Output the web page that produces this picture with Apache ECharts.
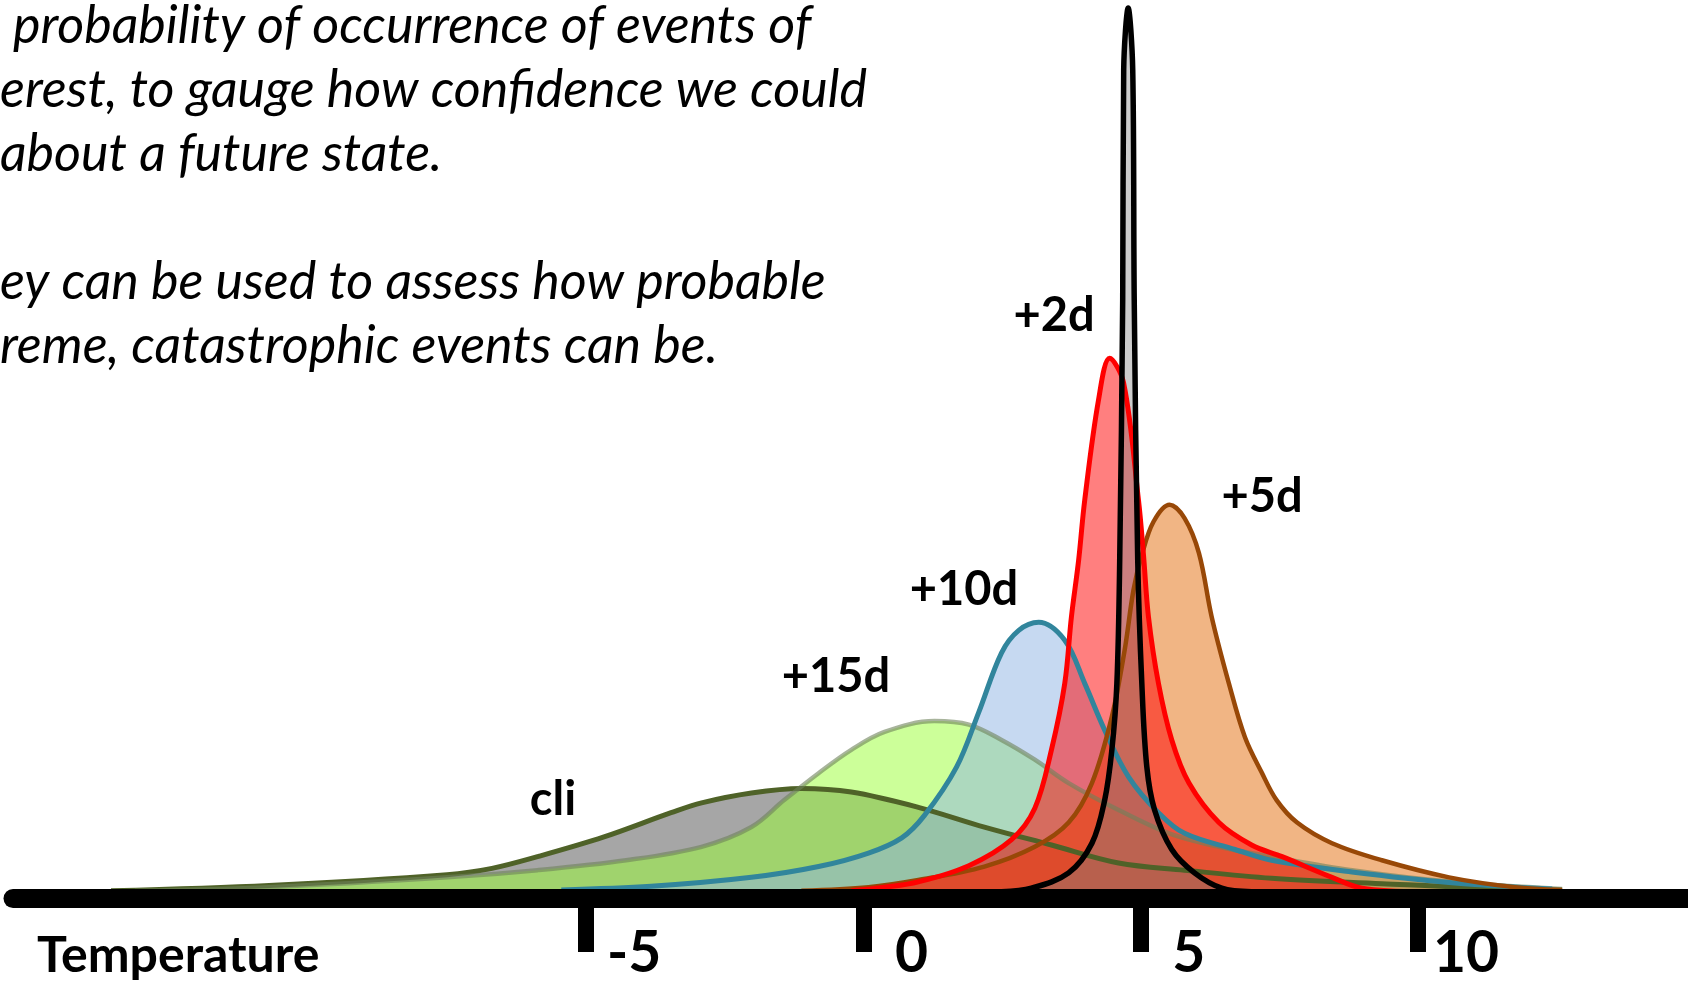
<!DOCTYPE html>
<html>
<head>
<meta charset="utf-8">
<title>Forecast spread</title>
<script src="https://cdn.jsdelivr.net/npm/echarts@6.0.0/dist/echarts.min.js"></script>
<style>
  html, body { margin: 0; padding: 0; background: #fff; }
  #chart { width: 1688px; height: 984px; }
</style>
</head>
<body>
<div id="chart"></div>
<script>
// temperature (x) and relative density (y, 0-100)
const cliX = [-13.57, -10.72, -7.51, -6.70, -5.88, -4.68, -3.47, -2.92, -2.02, -1.12, -0.22, 0.99, 2.18, 3.39, 4.60, 5.79, 7.36, 9.35, 11.16, 12.6]
const cliY = [0.8, 1.4, 2.6, 3.3, 4.6, 6.8, 9.5, 10.6, 11.7, 12.2, 11.8, 10.1, 7.9, 5.9, 3.9, 3.1, 2.2, 1.6, 1.1, 0.9]

const d15X = [-13.14, -10.72, -7.51, -5.88, -4.28, -2.92, -2.02, -1.43, -0.81, -0.22, 0.38, 1.28, 1.90, 2.49, 3.09, 3.70, 4.60, 5.51, 6.41, 7.36, 8.81, 10.61, 12.6]
const d15Y = [0.8, 1.2, 2.3, 3.1, 4.2, 5.7, 7.9, 10.9, 13.9, 16.5, 18.5, 19.7, 19.3, 17.6, 15.4, 12.8, 9.8, 7.2, 5.7, 4.6, 3.1, 1.8, 1.0]

const d10X = [-5.45, -3.83, -2.02, -0.81, 0.09, 0.69, 1.10, 1.68, 2.08, 2.49, 2.80, 3.16, 3.63, 3.99, 4.35, 4.78, 5.32, 5.79, 6.70, 7.36, 8.81, 10.61, 12.42]
const d10Y = [0.9, 1.3, 2.3, 3.5, 5.0, 6.7, 9.2, 14.6, 20.7, 27.3, 29.8, 30.7, 28.7, 23.9, 18.7, 13.5, 9.5, 7.2, 5.4, 4.2, 2.9, 1.7, 1.0]

const d5X = [-1.12, 0.09, 0.99, 2.18, 3.09, 3.70, 4.12, 4.48, 4.71, 4.87, 5.02, 5.23, 5.52, 5.79, 6.05, 6.28, 6.59, 6.88, 7.18, 7.45, 7.82, 8.45, 9.35, 10.56, 11.75, 12.6]
const d5Y = [0.8, 1.2, 2.0, 3.5, 5.7, 8.4, 12.8, 20.2, 27.6, 34.3, 38.2, 41.9, 43.8, 42.3, 38.4, 31.3, 23.9, 17.9, 14.0, 10.9, 8.4, 6.1, 4.2, 2.3, 1.2, 0.9]

const d2X = [-0.22, 0.38, 0.99, 1.90, 2.67, 3.09, 3.39, 3.63, 3.75, 3.88, 3.99, 4.24, 4.44, 4.69, 4.96, 5.05, 5.14, 5.32, 5.56, 5.87, 6.41, 7.00, 7.55, 8.45, 8.99, 10.07]
const d2Y = [0.8, 1.2, 1.8, 3.6, 6.5, 10.0, 16.5, 23.9, 31.3, 37.6, 44.3, 55.5, 60.1, 57.4, 44.3, 38.2, 31.3, 23.9, 17.6, 12.8, 8.4, 5.9, 4.6, 2.3, 1.1, 0.7]

const d0X = [2.49, 3.03, 3.70, 4.12, 4.35, 4.48, 4.57, 4.621, 4.675, 4.693, 4.774, 4.856, 4.883, 4.946, 5.02, 5.11, 5.25, 5.56, 5.97, 6.46, 7.00]
const d0Y = [0.7, 1.1, 2.8, 6.1, 10.9, 16.5, 23.9, 37.6, 66.6, 92.2, 99.1, 92.2, 66.6, 37.6, 23.9, 14.6, 9.8, 5.4, 2.8, 1.1, 0.7]

const tickValues = [-5, 0, 5, 10]
const curveLabels = ['cli', '+15d', '+10d', '+5d', '+2d']
const textLines = [
  'probability of occurrence of events of',
  'erest, to gauge how confidence we could',
  'about a future state.',
  '',
  'ey can be used to assess how probable',
  'reme, catastrophic events can be.'
]

const chart = echarts.init(document.getElementById('chart'))

const curve = (name, xs, ys, lineColor, fill, width) => ({
  name,
  type: 'line',
  data: xs.map((x, i) => [x, ys[i]]),
  smooth: 0.35,
  symbol: 'none',
  silent: true,
  lineStyle: { color: lineColor, width: width, join: 'round' },
  areaStyle: { color: fill, opacity: 1 }
})

// label anchors (px), one per entry of curveLabels
const labelPos = [[553, 800], [836, 677], [964, 590], [1262, 497], [1054, 316]]

const graphics = []
textLines.forEach((t, i) => {
  if (!t) return
  graphics.push({
    type: 'text',
    x: i === 0 ? 13 : 0,
    y: 26 + i * 64,
    z: 100,
    style: {
      text: t,
      fill: '#000',
      font: 'italic 52px Lato, "Open Sans", sans-serif',
      verticalAlign: 'middle'
    }
  })
})
curveLabels.forEach((t, i) => {
  graphics.push({
    type: 'text',
    x: labelPos[i][0],
    y: labelPos[i][1],
    z: 100,
    style: {
      text: t,
      fill: '#000',
      font: 'bold 47px Lato, sans-serif',
      align: 'center',
      verticalAlign: 'middle'
    }
  })
})
graphics.push({
  type: 'text',
  x: 37,
  y: 956,
  z: 100,
  style: {
    text: 'Temperature',
    fill: '#000',
    font: 'bold 50px Lato, sans-serif',
    verticalAlign: 'middle'
  }
})

chart.setOption({
  animation: false,
  backgroundColor: '#fff',
  grid: { left: 13, right: 0, top: 0, bottom: 86 },
  xAxis: {
    type: 'value',
    min: -15.338,
    max: 14.87,
    z: 10,
    axisLine: { show: true, lineStyle: { color: '#000', width: 19 } },
    axisTick: {
      show: true,
      customValues: tickValues,
      length: 54,
      lineStyle: { color: '#000', width: 16 }
    },
    axisLabel: {
      show: true,
      customValues: tickValues,
      color: '#000',
      fontFamily: 'Lato',
      fontWeight: 'bold',
      fontSize: 57,
      margin: 56,
      verticalAlign: 'middle',
      align: 'center',
      padding: [0, 0, 0, 96]
    },
    splitLine: { show: false }
  },
  yAxis: {
    type: 'value',
    min: 0,
    max: 100,
    show: false
  },
  graphic: graphics,
  series: [
    curve('cli', cliX, cliY, '#4f6228', 'rgba(128,128,128,0.7)', 5),
    curve('+15d', d15X, d15Y, 'rgba(110,130,90,0.6)', 'rgba(153,255,51,0.5)', 4.5),
    curve('+10d', d10X, d10Y, '#31859c', 'rgba(142,180,227,0.5)', 5),
    curve('+5d', d5X, d5Y, '#984807', 'rgba(228,108,10,0.5)', 4.5),
    curve('+2d', d2X, d2Y, '#ff0000', 'rgba(255,0,0,0.5)', 5),
    curve('+1d', d0X, d0Y, '#000000', 'rgba(128,128,128,0.4)', 5.5)
  ]
})
</script>
</body>
</html>
